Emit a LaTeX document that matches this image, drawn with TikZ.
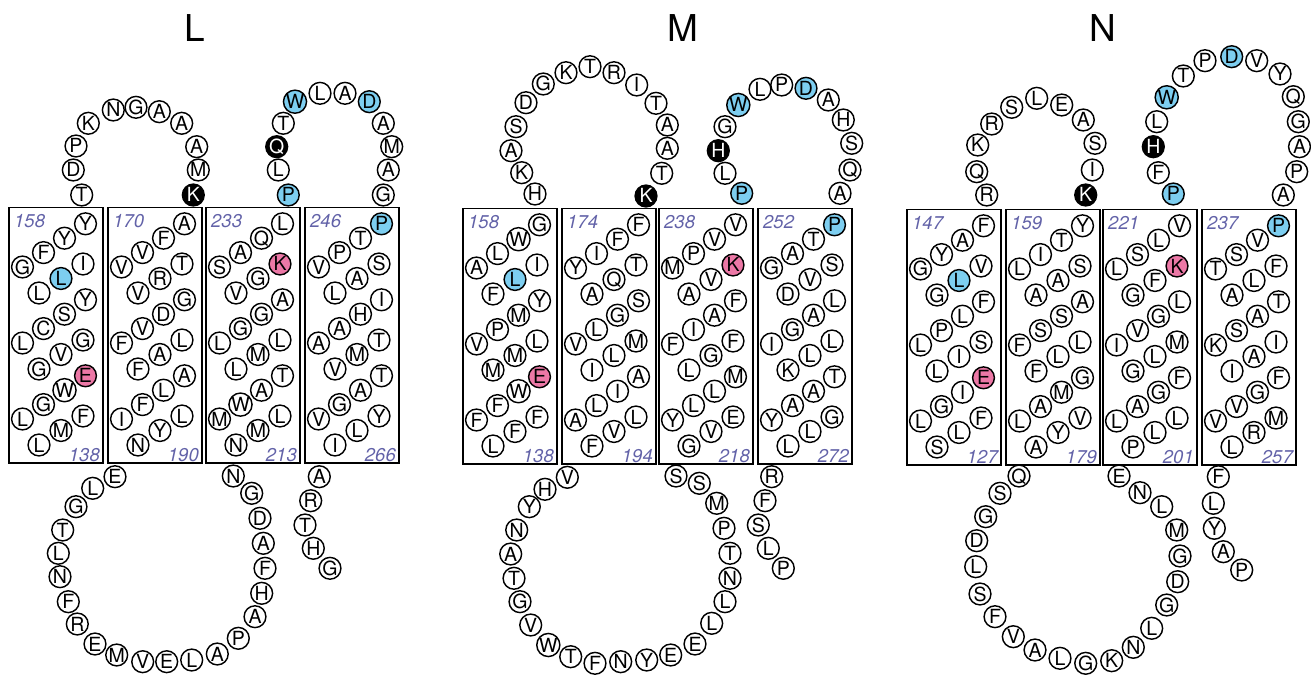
\documentclass[tikz,border=0pt]{standalone}
\usepackage{fontspec}
\setsansfont{TeX Gyre Heros}
\definecolor{resblue}{RGB}{125,206,240}
\definecolor{respink}{RGB}{236,120,166}
\definecolor{numblue}{RGB}{98,98,168}
\newcommand\resfont{\sffamily\fontsize{19.5}{19.5}\selectfont}
\newcommand\numfont{\sffamily\itshape\fontsize{18.5}{18.5}\selectfont}
\newcommand\ttlfont{\sffamily\fontsize{37}{37}\selectfont}

\tikzset{
  res/.style={circle, draw=black, line width=1.45pt, fill=white, minimum size=21.8pt,
              inner sep=0pt, font=\resfont, text height=14pt, text depth=0pt},
  rw/.style={res},
  rb/.style={res, fill=resblue},
  rp/.style={res, fill=respink},
  rk/.style={res, fill=black, text=white},
  tmbox/.style={draw=black, line width=1.5pt, minimum width=94pt, minimum height=255pt, inner sep=0pt},
  numlab/.style={font=\numfont, text=numblue, inner sep=0pt},
  ttl/.style={font=\ttlfont, inner sep=0pt}
}

% one turn-group of a helix: four residues on the lower diagonal, three on the upper
\newcommand\helixgroup[4]{%
  \foreach \rl/\rs [count=\i from 0] in {#4} {
    \pgfmathsetmacro\hx{#2 + ifthenelse(\i<4, 14.5+21*\i, 31+22*(\i-4))}
    \pgfmathsetmacro\hy{#3 + ifthenelse(\i<4, 60-14.4*\i, 86-14.5*(\i-4))}
    \node[\rs] (#1-\i) at (\hx,\hy) {\rl};
  }%
}
% transmembrane helix: box, residue numbers, three turn-groups
\newcommand\helix[8]{%
  \node[tmbox, anchor=north west] (#1) at (#2,#3) {};
  \node[numlab, anchor=base west] (#1-top) at ({#2+6},{#3+20.5}) {#4};
  \node[numlab, anchor=base east] (#1-bot) at ({#2+92},{#3+254}) {#5};
  \helixgroup{#1-a}{#2}{#3}{#6}
  \helixgroup{#1-b}{#2}{#3+76}{#7}
  \helixgroup{#1-c}{#2}{#3+152}{#8}
}
% loop or tail: residues at given positions
\newcommand\chain[2]{%
  \foreach \px/\py/\rl/\rs [count=\i] in {#2} {
    \node[\rs] (#1-\i) at (\px,\py) {\rl};
  }%
}

\begin{document}
\begin{tikzpicture}[x=1pt, y=-1pt]
\useasboundingbox (0,0) rectangle (1311,676);

% ---------------- L ----------------
\node[ttl, anchor=base] (titleL) at (195,42) {L};
\helix{L1}{8}{207}{158}{138}
 {G/rw,F/rw,Y/rw,Y/rw,L/rw,L/rb,I/rw}
 {L/rw,C/rw,S/rw,Y/rw,G/rw,V/rw,G/rw}
 {L/rw,G/rw,W/rw,E/rp,L/rw,M/rw,F/rw}
\helix{L2}{107}{207}{170}{190}
 {V/rw,V/rw,F/rw,A/rw,V/rw,R/rw,T/rw}
 {F/rw,V/rw,D/rw,G/rw,F/rw,A/rw,L/rw}
 {I/rw,F/rw,L/rw,A/rw,N/rw,Y/rw,L/rw}
\helix{L3}{205}{207}{233}{213}
 {S/rw,A/rw,Q/rw,L/rw,V/rw,G/rw,K/rp}
 {L/rw,G/rw,G/rw,A/rw,L/rw,M/rw,L/rw}
 {M/rw,W/rw,A/rw,T/rw,N/rw,M/rw,L/rw}
\helix{L4}{304}{207}{246}{266}
 {V/rw,P/rw,T/rw,P/rb,L/rw,A/rw,S/rw}
 {A/rw,A/rw,H/rw,I/rw,V/rw,M/rw,T/rw}
 {V/rw,G/rw,A/rw,T/rw,I/rw,L/rw,Y/rw}
\chain{Lp1}{81.7/195/T/rw, 73.3/170/D/rw, 76/146/P/rw, 88.3/123.3/K/rw, 113.3/110/N/rw,
  136/107.3/G/rw, 159.3/111.7/A/rw, 181.7/123.3/A/rw, 196.7/146.7/A/rw, 198.3/170/M/rw, 193.3/195/K/rk}
\chain{Lp2}{288.3/195/P/rb, 278.3/170/L/rw, 276.7/146.7/Q/rk, 283.3/123.3/T/rw, 295/101.7/W/rb,
  320/93.3/L/rw, 345/93.3/A/rw, 369.3/101.7/D/rb, 383.3/123.3/A/rw, 391.7/146.7/M/rw, 388.3/170/A/rw, 383.3/195/G/rw}
\chain{Lc1}{115/476.7/E/rw, 92.7/488.3/L/rw, 76/506.7/G/rw, 62.7/530/T/rw, 58.3/553.3/L/rw,
  60/576.7/N/rw, 68.3/601.7/F/rw, 77.3/624/R/rw, 95/644/E/rw, 116.7/655/M/rw, 142.7/661.7/V/rw,
  166.7/661.7/E/rw, 191.7/660/L/rw, 217.3/654/A/rw, 238.3/638.3/P/rw, 255/616.7/A/rw, 261.7/593.3/H/rw,
  265/568.3/F/rw, 263.3/543.3/A/rw, 260/518.3/D/rw, 251.7/493.3/G/rw, 233.3/476/N/rw}
\chain{Lc2}{319.3/476.7/A/rw, 310.7/500.7/R/rw, 305/525/T/rw, 313.3/548.3/H/rw, 330/568.3/G/rw}

% ---------------- M ----------------
\node[ttl, anchor=base] (titleM) at (683,42) {M};
\helix{M1}{462}{208}{158}{138}
 {A/rw,L/rw,W/rw,G/rw,F/rw,L/rb,I/rw}
 {V/rw,P/rw,M/rw,Y/rw,M/rw,M/rw,L/rw}
 {F/rw,F/rw,W/rw,E/rp,L/rw,F/rw,F/rw}
\helix{M2}{561}{208}{174}{194}
 {Y/rw,I/rw,F/rw,F/rw,A/rw,Q/rw,T/rw}
 {V/rw,L/rw,G/rw,S/rw,I/rw,L/rw,M/rw}
 {A/rw,L/rw,I/rw,A/rw,F/rw,V/rw,L/rw}
\helix{M3}{658}{208}{238}{218}
 {M/rw,P/rw,V/rw,V/rw,A/rw,V/rw,K/rp}
 {F/rw,I/rw,A/rw,F/rw,L/rw,G/rw,F/rw}
 {Y/rw,L/rw,L/rw,M/rw,G/rw,V/rw,E/rw}
\helix{M4}{757}{208}{252}{272}
 {G/rw,A/rw,T/rw,P/rb,D/rw,V/rw,S/rw}
 {I/rw,G/rw,A/rw,L/rw,K/rw,L/rw,L/rw}
 {Y/rw,A/rw,A/rw,T/rw,L/rw,L/rw,G/rw}
\chain{Mp1}{535/194/H/rw, 521.7/172.7/K/rw, 511/150.7/A/rw, 516/126.7/S/rw, 526/102.7/D/rw,
  543.3/84/G/rw, 566/72.7/K/rw, 590/66.7/T/rw, 614/72.7/R/rw, 636.7/85/I/rw, 656/103.3/T/rw,
  667.3/125/A/rw, 667.3/148.3/A/rw, 661.7/173.3/T/rw, 646/196/K/rk}
\chain{Mp2}{741.7/193.3/P/rb, 725/173.3/L/rw, 718.3/150.7/H/rk, 725/126.7/G/rw, 738.3/105/W/rb,
  760/89.3/L/rw, 781.7/85/P/rw, 806/88.3/D/rb, 828.3/100/A/rw, 843.3/120/H/rw, 851.7/143.3/S/rw,
  850/170/Q/rw, 840/193.3/A/rw}
\chain{Mc1}{567.3/477.3/V/rw, 545/489.3/H/rw, 529.3/506.7/Y/rw, 516.7/530/N/rw, 510.7/554/A/rw,
  514/578.3/T/rw, 520/601.7/G/rw, 530.7/625/V/rw, 548.3/645/W/rw, 570.7/656.7/T/rw, 595/663.3/F/rw,
  620.7/661.7/N/rw, 646.7/660/Y/rw, 670.7/655/E/rw, 695/644/E/rw, 711.7/623.3/L/rw, 725/601.7/L/rw,
  730/578.3/N/rw, 730/553.3/T/rw, 724/528.3/P/rw, 716.7/503.3/M/rw, 699.3/483.3/S/rw, 676/476/S/rw}
\chain{Mc2}{771.7/476.7/R/rw, 765/500.7/F/rw, 758.3/525/S/rw, 768.3/548.3/L/rw, 783.3/568.3/P/rw}

% ---------------- N ----------------
\node[ttl, anchor=base] (titleN) at (1103,42) {N};
\helix{N1}{906}{209}{147}{127}
 {G/rw,Y/rw,A/rw,F/rw,G/rw,L/rb,V/rw}
 {L/rw,P/rw,L/rw,F/rw,L/rw,I/rw,S/rw}
 {L/rw,G/rw,I/rw,E/rp,S/rw,L/rw,F/rw}
\helix{N2}{1005}{209}{159}{179}
 {L/rw,I/rw,T/rw,Y/rw,A/rw,A/rw,S/rw}
 {F/rw,S/rw,S/rw,A/rw,F/rw,L/rw,L/rw}
 {L/rw,A/rw,M/rw,G/rw,A/rw,Y/rw,V/rw}
\helix{N3}{1102}{209}{221}{201}
 {L/rw,S/rw,L/rw,V/rw,G/rw,F/rw,K/rp}
 {I/rw,V/rw,G/rw,L/rw,G/rw,L/rw,M/rw}
 {L/rw,A/rw,G/rw,F/rw,P/rw,L/rw,L/rw}
\helix{N4}{1201}{209}{237}{257}
 {T/rw,S/rw,V/rw,P/rb,A/rw,L/rw,F/rw}
 {K/rw,S/rw,A/rw,T/rw,I/rw,A/rw,I/rw}
 {V/rw,V/rw,G/rw,F/rw,L/rw,R/rw,M/rw}
\chain{Np1}{986.7/195/R/rw, 976.7/171.7/Q/rw, 977.7/145/K/rw, 991.7/124/R/rw, 1011.7/107.3/S/rw,
  1036.7/98.3/L/rw, 1061.7/105/E/rw, 1083.3/120/A/rw, 1095/143.3/S/rw, 1092.3/170/I/rw, 1085.7/195/K/rk}
\chain{Np2}{1173.3/194/P/rb, 1158.3/172.7/F/rw, 1153.3/146.7/H/rk, 1156.7/121.7/L/rw, 1166.7/97.3/W/rb,
  1183.3/76/T/rw, 1205/60.7/P/rw, 1231.7/56.7/D/rb, 1256.7/60.7/V/rw, 1280/74/Y/rw, 1293.3/96.7/Q/rw,
  1298.3/121.7/G/rw, 1299.5/146.7/A/rw, 1296.7/171.7/P/rw, 1283.3/195/A/rw}
\chain{Nc1}{1019/476/Q/rw, 1000/493.3/S/rw, 985.7/516.7/G/rw, 976.7/540.7/D/rw, 975.7/566.7/L/rw,
  980/594/S/rw, 995/616.7/F/rw, 1013.3/636.7/V/rw, 1035/650/A/rw, 1060/658.3/L/rw, 1085.7/663.3/G/rw,
  1111.7/660.7/K/rw, 1133.3/647.3/N/rw, 1151.7/628.3/L/rw, 1166.7/605/G/rw, 1177.7/581.7/D/rw,
  1180/556/G/rw, 1176.7/530/M/rw, 1161.7/506.7/L/rw, 1140/492.7/N/rw, 1119/476/E/rw}
\chain{Nc2}{1218.3/476.7/F/rw, 1213.3/503.3/L/rw, 1214.3/528.3/Y/rw, 1223.3/551.7/A/rw, 1241.7/570/P/rw}
\end{tikzpicture}
\end{document}
